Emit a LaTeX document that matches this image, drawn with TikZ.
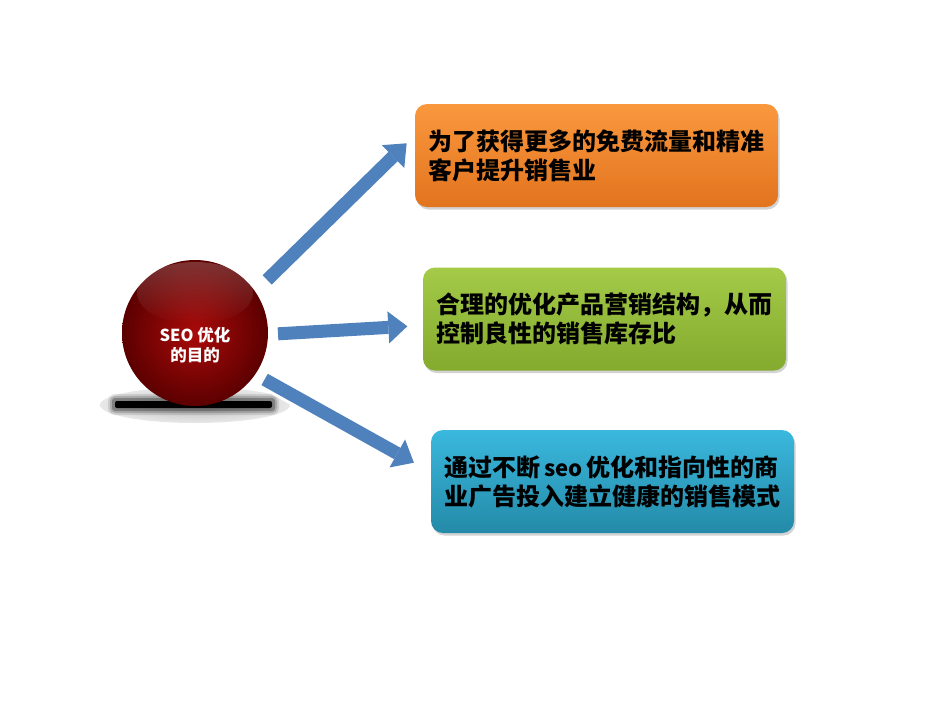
\documentclass[tikz,border=0pt]{standalone}
\usepackage{fontspec}
\newfontfamily\cjk{Noto Sans CJK SC}
\usetikzlibrary{arrows.meta,shadows,fadings}

\definecolor{arrowblue}{RGB}{79,129,189}
\definecolor{orangetop}{RGB}{250,152,62}
\definecolor{orangebot}{RGB}{226,116,30}
\definecolor{greentop}{RGB}{164,202,72}
\definecolor{greenbot}{RGB}{132,170,46}
\definecolor{bluetop}{RGB}{58,184,222}
\definecolor{bluebot}{RGB}{36,138,168}
\definecolor{balldark}{RGB}{92,0,0}
\definecolor{balllight}{RGB}{170,10,10}

\begin{document}
\begin{tikzpicture}[x=1pt,y=-1pt,
  goalbox/.style={rounded corners=12pt, minimum width=363pt, minimum height=103pt,
    align=left, font=\cjk\bfseries\fontsize{24}{29}\selectfont,
    drop shadow={shadow xshift=1.5pt, shadow yshift=-2.5pt, opacity=.35}},
  rim/.style={draw=white, line width=19pt,
    -{Triangle[length=27pt, width=45pt, line width=0pt]}},
  shaft/.style={draw=arrowblue, line width=13pt, shorten >=4.7pt, shorten <=3pt,
    -{Triangle[length=19pt, width=32pt, line width=0pt]}}
]
\useasboundingbox (0,0) rectangle (950,713);

% shadow under the ball
\shade[inner color=gray!55, outer color=gray!18] (195,405) ellipse [x radius=95, y radius=18];
\foreach \w/\o in {7/.1,5/.15,3/.25}
  \fill[black, opacity=\o, rounded corners=\w] (115-\w,401-\w) rectangle (272+\w,408+\w);
\fill[black, rounded corners=2pt] (115,401) rectangle (272,408);

% the ball
\node[circle, minimum size=146pt, inner sep=0pt, shading=radial,
  inner color=balllight, outer color=balldark] (ball) at (195,333) {};
\fill[white, fill opacity=.2, path fading=south] (195,293) ellipse [x radius=58, y radius=31];
\node[font=\cjk\bfseries\fontsize{16.5}{20}\selectfont, text=white, align=center]
  (balltext) at (195,345) {SEO 优化\\的目的};

% the three goals
\node[goalbox, top color=orangetop, bottom color=orangebot] (goal1) at (596.5,155.5)
  {为了获得更多的免费流量和精准\\客户提升销售业};
\node[goalbox, top color=greentop, bottom color=greenbot] (goal2) at (604.5,319)
  {合理的优化产品营销结构，从而\\控制良性的销售库存比};
\node[goalbox, top color=bluetop, bottom color=bluebot] (goal3) at (612.5,481.5)
  {通过不断\hspace{4pt}{\fontsize{22}{29}\selectfont seo}\hspace{4pt}优化和指向性的商\\业广告投入建立健康的销售模式};

% arrows
\coordinate (from1) at (265,282);
\coordinate (to1) at (410,140);
\coordinate (from2) at (275,334);
\coordinate (to2) at (412,326);
\coordinate (from3) at (262,378);
\coordinate (to3) at (418,465);
\foreach \i in {1,2,3}
{
\draw[rim] (from\i) -- (to\i);
\draw[shaft] (from\i) -- (to\i);
}
\end{tikzpicture}
\end{document}
